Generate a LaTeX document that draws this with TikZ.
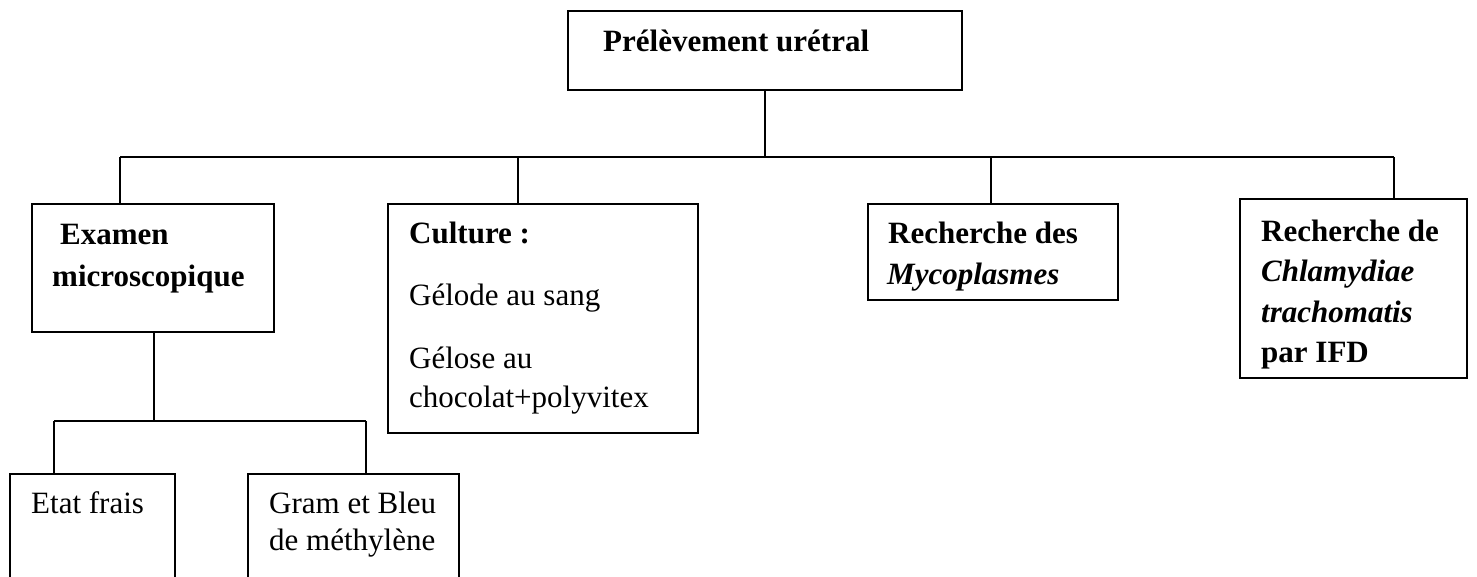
\documentclass[tikz,border=0pt]{standalone}
\usepackage{fontspec}
\setmainfont{Liberation Serif}
\tikzset{
  box/.style={draw=black, line width=2pt, rectangle, inner sep=0pt, anchor=north west},
  txt/.style={anchor=base west, inner sep=0pt, font=\fontsize{31}{37}\selectfont},
  btxt/.style={txt, font=\fontsize{31}{37}\selectfont\bfseries},
  itxt/.style={txt, font=\fontsize{31}{37}\selectfont\bfseries\itshape},
  link/.style={draw=black, line width=2pt}
}
\begin{document}
\begin{tikzpicture}[x=1pt, y=-1pt]
\useasboundingbox (0,0) rectangle (1477,576);
\clip (0,0) rectangle (1477,576);
% boxes
\node[box, minimum width=394pt, minimum height=79pt] (top) at (567,10) {};
\node[box, minimum width=242pt, minimum height=128pt] (exam) at (31,203) {};
\node[box, minimum width=310pt, minimum height=229pt] (cult) at (387,203) {};
\node[box, minimum width=250pt, minimum height=96pt] (myco) at (867,203) {};
\node[box, minimum width=227pt, minimum height=179pt] (chla) at (1239,198) {};
\node[box, minimum width=165pt, minimum height=140pt] (etat) at (9,473) {};
\node[box, minimum width=211pt, minimum height=140pt] (gram) at (247,473) {};
% texts
\node[btxt] (t1) at (603,51) {Prélèvement urétral};
\node[btxt] (t2) at (60,244) {Examen};
\node[btxt] (t3) at (52,286) {microscopique};
\node[btxt] (t4) at (409,243) {Culture :};
\node[txt] (t5) at (409,305) {Gélode au sang};
\node[txt] (t6) at (409,368) {Gélose au};
\node[txt] (t7) at (409,407) {chocolat+polyvitex};
\node[btxt] (t8) at (888,243) {Recherche des};
\node[itxt] (t9) at (887,284) {Mycoplasmes};
\node[btxt] (t10) at (1261,241) {Recherche de};
\node[itxt] (t11) at (1261,281) {Chlamydiae};
\node[itxt] (t12) at (1261,322) {trachomatis};
\node[btxt] (t13) at (1261,362) {par IFD};
\node[txt] (t14) at (31,513) {Etat frais};
\node[txt] (t15) at (269,513) {Gram et Bleu};
\node[txt] (t16) at (269,550) {de méthylène};
% connector points
\coordinate (busL) at (120,157);
\coordinate (busR) at (1394,157);
\coordinate (dC) at (518,157);
\coordinate (dM) at (991,157);
\coordinate (sub) at (154,421);
\coordinate (subL) at (54,421);
\coordinate (subR) at (366,421);
% connectors
\draw[link] (top.south) -- (top.south |- busL);
\draw[link] (busL) -- (busR);
\draw[link] (busL) -- (busL |- exam.north);
\draw[link] (dC) -- (dC |- cult.north);
\draw[link] (dM) -- (dM |- myco.north);
\draw[link] (busR) -- (busR |- chla.north);
\draw[link] (sub |- exam.south) -- (sub);
\draw[link] (subL) -- (subR);
\draw[link] (subL) -- (subL |- etat.north);
\draw[link] (subR) -- (subR |- gram.north);
\end{tikzpicture}
\end{document}
